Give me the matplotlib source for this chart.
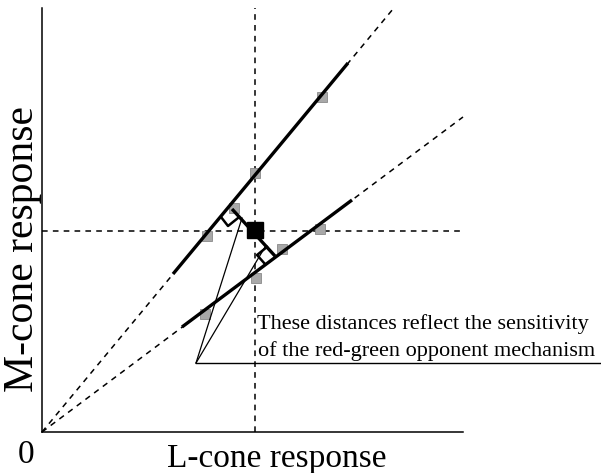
import matplotlib.pyplot as plt

# coordinates in "response" units (origin at the axes corner)
upper_ray = [(0, 0), (351, 423)]
lower_ray = [(0, 0), (421, 315)]
ref_L = 213
ref_M = 201

upper_thick = [(131, 158), (306, 369)]
lower_thick = [(140, 105), (310, 232)]
perp_line = [(190, 223), (233, 176)]

upper_mark = [(179, 215), (186, 206), (196, 214)]
lower_mark = [(225, 185), (215, 177), (223, 168)]

apex = (154, 69)
thin_ends = [(200, 214), (223, 185)]
base_end = 558

gray_L = [280, 213, 192, 165, 278, 240, 214, 163]
gray_M = [335, 259, 224, 196, 203, 183, 154, 118]
black_pt = (213, 202)

note_lines = ["These distances reflect the sensitivity",
              "of the red-green opponent mechanism"]

plt.rcParams['font.family'] = ['Liberation Serif', 'DejaVu Serif']

fig = plt.figure(figsize=(6.01, 4.73), dpi=100)
ax = fig.add_axes([42 / 601, 41 / 473, 421 / 601, 424 / 473])
ax.set_xlim(0, 421)
ax.set_ylim(0, 424)
for s in ['top', 'right']:
    ax.spines[s].set_visible(False)
for s in ['left', 'bottom']:
    ax.spines[s].set_linewidth(1.1)
ax.set_xticks([])
ax.set_yticks([])

dash = (0, (3.7, 3.4))
for ray in [upper_ray, lower_ray]:
    ax.plot([p[0] for p in ray], [p[1] for p in ray], color='black', lw=1.1, linestyle=dash, clip_on=False)
ax.plot([ref_L, ref_L], [0, 424], color='black', lw=1.1, linestyle=dash, clip_on=False)
ax.plot([0, 421], [ref_M, ref_M], color='black', lw=1.1, linestyle=dash, clip_on=False)

# gray data points, under the lines
ax.plot(gray_L, gray_M, linestyle='none', marker='s', markersize=7.2,
        markerfacecolor='#a8a8a8', markeredgecolor='#8a8a8a', markeredgewidth=0.6, zorder=2)

for seg in [upper_thick, lower_thick, perp_line]:
    ax.plot([p[0] for p in seg], [p[1] for p in seg], color='black', lw=2.4, solid_capstyle='butt', zorder=3)
for mark in [upper_mark, lower_mark]:
    ax.plot([p[0] for p in mark], [p[1] for p in mark], color='black', lw=1.8, zorder=3)

for end in thin_ends:
    ax.plot([apex[0], end[0]], [apex[1], end[1]], color='black', lw=0.9, zorder=3)
ax.plot([apex[0], base_end], [apex[1], apex[1]], color='black', lw=1.0, clip_on=False, zorder=3)

ax.plot([black_pt[0]], [black_pt[1]], marker='s', markersize=11.5, color='black', zorder=4)

ax.text(215, 103, note_lines[0], fontsize=16, ha='left', va='baseline')
ax.text(216, 76, note_lines[1], fontsize=16, ha='left', va='baseline', clip_on=False)

ax.text(-16, -23, "0", fontsize=24, ha='center', va='center', clip_on=False)
ax.text(235, -35, "L-cone response", fontsize=24, ha='center', va='baseline', clip_on=False)
ax.text(-9, 183, "M-cone response", fontsize=30, ha='center', va='baseline',
        rotation=90, rotation_mode='anchor', clip_on=False)

fig.savefig("out.png", dpi=100)
